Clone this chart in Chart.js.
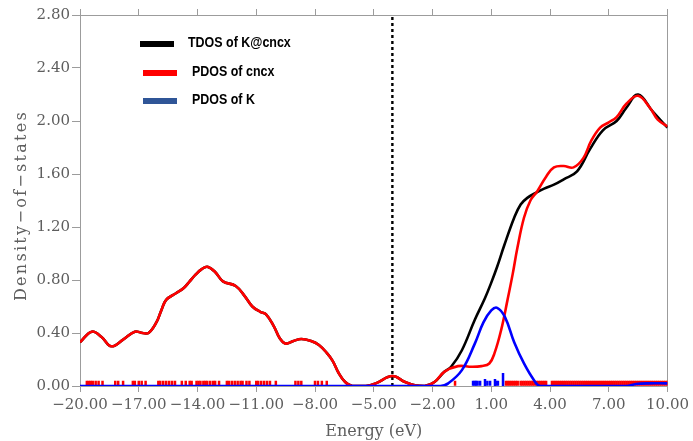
<!DOCTYPE html>
<html>
<head>
<meta charset="utf-8">
<script src="https://cdn.jsdelivr.net/npm/chart.js@4.4.0/dist/chart.umd.min.js"></script>
<style>
  html, body { margin: 0; padding: 0; background: #fff; }
  #wrap { width: 693px; height: 441px; }
</style>
</head>
<body>
<div id="wrap"><canvas id="dos" width="693" height="441"></canvas></div>
<script>
// tick labels
const xTicks = [-20, -17, -14, -11, -8, -5, -2, 1, 4, 7, 10];
const fermiLevel = -4.05;
const seriesNames = ['TDOS of K@cncx', 'PDOS of cncx', 'PDOS of K'];
const yTitle = 'Density\u2212of\u2212states';

// PDOS of cncx
const cncxEnergy = [-20, -19.4, -18.9, -18.4, -17.8, -17.2, -16.8, -16.5, -16.1, -15.85, -15.6, -15.1, -14.7, -14.4, -14.1, -13.8, -13.5,
  -13.1, -12.7, -12.05, -11.6, -11.2, -10.8, -10.5, -10.1, -9.8, -9.5, -9.1, -8.7, -8.2, -7.8, -7.4, -7.1, -6.8, -6.46, -6.1, -5.4,
  -4.9, -4.05, -3.4, -2.9, -2.4, -1.9, -1.4, -0.7, 0.0, 0.5, 0.9, 1.17, 1.5, 1.83, 2.1, 2.33, 2.67, 3.0, 3.35, 3.8, 4.2, 4.7,
  5.2, 5.7, 6.1, 6.56, 7.0, 7.4, 7.9, 8.5, 9.1, 9.5, 10];
const cncxDos = [0.33, 0.41, 0.37, 0.30, 0.35, 0.41, 0.40, 0.40, 0.48, 0.57, 0.65, 0.70, 0.74, 0.79, 0.84, 0.88, 0.90,
  0.86, 0.79, 0.755, 0.68, 0.60, 0.56, 0.54, 0.45, 0.36, 0.32, 0.34, 0.355, 0.34, 0.31, 0.25, 0.19, 0.10, 0.03, 0.0, 0.0,
  0.02, 0.075, 0.03, 0.005, 0.0, 0.03, 0.107, 0.15, 0.145, 0.15, 0.17, 0.25, 0.42, 0.65, 0.85, 1.04, 1.27, 1.40, 1.47, 1.58, 1.65, 1.66,
  1.65, 1.72, 1.85, 1.95, 1.99, 2.03, 2.13, 2.19, 2.10, 2.01, 1.96];

// TDOS of K@cncx
const totalEnergy = [-20, -19.4, -18.9, -18.4, -17.8, -17.2, -16.8, -16.5, -16.1, -15.85, -15.6, -15.1, -14.7, -14.4, -14.1, -13.8, -13.5,
  -13.1, -12.7, -12.05, -11.6, -11.2, -10.8, -10.5, -10.1, -9.8, -9.5, -9.1, -8.7, -8.2, -7.8, -7.4, -7.1, -6.8, -6.46, -6.1, -5.4,
  -4.9, -4.05, -3.4, -2.9, -2.4, -1.9, -1.4, -1.05, -0.5, 0.16, 0.67, 1.0, 1.3, 1.66, 2.17, 2.5, 2.84, 3.3, 3.7, 4.2, 4.7, 5.38,
  6.05, 6.7, 7.4, 7.9, 8.5, 9.25, 10];
const totalDos = [0.33, 0.41, 0.37, 0.30, 0.35, 0.41, 0.40, 0.40, 0.48, 0.57, 0.65, 0.70, 0.74, 0.79, 0.84, 0.88, 0.90,
  0.86, 0.79, 0.755, 0.68, 0.60, 0.56, 0.54, 0.45, 0.36, 0.32, 0.34, 0.355, 0.34, 0.31, 0.25, 0.19, 0.10, 0.03, 0.0, 0.0,
  0.02, 0.075, 0.03, 0.005, 0.0, 0.03, 0.107, 0.145, 0.27, 0.50, 0.66, 0.78, 0.90, 1.06, 1.27, 1.37, 1.42, 1.46, 1.49, 1.52, 1.56, 1.62,
  1.79, 1.93, 2.00, 2.10, 2.20, 2.07, 1.95];

// PDOS of K
const kEnergy = [-20, -1.6, -1.2, -0.5, 0.16, 0.6, 1.0, 1.3, 1.7, 2.17, 2.67, 3.2, 3.5, 7.9, 8.4, 9.0, 10];
const kDos = [0.0, 0.0, 0.02, 0.12, 0.32, 0.48, 0.57, 0.59, 0.52, 0.33, 0.17, 0.04, 0.0, 0.0, 0.015, 0.02, 0.02];

// eigenvalue rug marks
const cncxLevels = [-19.65, -19.55, -19.45, -19.35, -19.2, -19.05, -18.85, -18.2, -18.05, -17.8,
  -17.3, -17.2, -17.0, -16.85, -16.65, -16.0, -15.9, -15.75, -15.6, -15.45, -15.3, -15.15,
  -14.8, -14.6, -14.4, -14.3, -14.05, -13.95, -13.85, -13.7, -13.6, -13.5, -13.35, -13.2, -13.1, -12.9,
  -12.5, -12.4, -12.25, -12.1, -11.95, -11.8, -11.7, -11.5, -11.35, -11.0,
  -10.9, -10.75, -10.6, -10.45, -10.3, -10.0, -9.0, -8.85, -8.7, -8.0, -7.85, -7.65, -7.4, -0.85,
  1.75, 1.85, 1.95, 2.05, 2.15, 2.25, 2.35, 2.5, 2.6, 2.7, 2.8, 2.9, 3.0, 3.1, 3.2, 3.3, 3.4, 3.5, 3.6, 3.7, 3.8,
  4.1, 4.2, 4.3, 4.4, 4.5, 4.6, 4.7, 4.8, 4.9, 5.0, 5.1, 5.2, 5.3, 5.4, 5.5, 5.6, 5.7, 5.8, 5.9, 6.0,
  6.1, 6.2, 6.3, 6.4, 6.5, 6.6, 6.7, 6.8, 6.9, 7.0, 7.1, 7.2, 7.3, 7.4, 7.5, 7.6, 7.7, 7.8, 7.9, 8.0,
  8.1, 8.2, 8.3, 8.4, 8.5, 8.6, 8.7, 8.8, 8.9, 9.0, 9.1, 9.2, 9.3, 9.4, 9.5, 9.6, 9.7, 9.8, 9.9, 10.0];
const kLevels = [0.07, 0.15, 0.22, 0.3, 0.43, 0.8, 0.94, 1.25, 1.34];
const kLevelsStrong = [0.68, 1.19];
const kLevelsPeak = [1.6];

const pts = (xs, ys) => xs.map((x, i) => ({ x: x, y: ys[i] }));
const rug = (xs, h) => xs.map(x => ({ x: x, y: h }));
const fmt = v => (v < 0 ? '\u2212' : '') + Math.abs(v).toFixed(2);

const axisGray = '#9c9c9c';
const labelGray = '#5e5e5e';
const serif = "'DejaVu Serif', serif";

const legendRows = [
  { swatch: '#000000', sx: 140, tx: 188, y: 44 },
  { swatch: '#ff0000', sx: 143, tx: 192, y: 73 },
  { swatch: '#2f5597', sx: 143, tx: 192, y: 101 }
];

// inline legend + spaced y-axis title
const annotations = {
  id: 'annotations',
  afterDraw(chart) {
    const ctx = chart.ctx;
    const area = chart.chartArea;
    ctx.save();
    ctx.font = "bold 15px 'Liberation Sans', sans-serif";
    ctx.textBaseline = 'middle';
    legendRows.forEach((row, i) => {
      ctx.fillStyle = row.swatch;
      ctx.fillRect(row.sx, row.y - 3, 34, 6);
      ctx.save();
      ctx.translate(row.tx, row.y - 1);
      ctx.scale(0.83, 1);
      ctx.fillStyle = '#000';
      ctx.fillText(seriesNames[i], 0, 0);
      ctx.restore();
    });
    ctx.translate(22, (area.top + area.bottom) / 2 + 5);
    ctx.rotate(-Math.PI / 2);
    ctx.font = '16px ' + serif;
    ctx.letterSpacing = '2.3px';
    ctx.fillStyle = labelGray;
    ctx.textAlign = 'center';
    ctx.fillText(yTitle, 0, 0);
    ctx.restore();
  }
};

const lineStyle = { pointRadius: 0, borderWidth: 2.6, fill: false, tension: 0.4 };
const rugStyle = { showLine: false, pointStyle: 'line', rotation: 90, pointBorderWidth: 2.5, pointHoverRadius: 0 };

new Chart(document.getElementById('dos'), {
  type: 'line',
  data: {
    datasets: [
      Object.assign({ label: seriesNames[2], data: pts(kEnergy, kDos), borderColor: '#0000ff' }, lineStyle),
      Object.assign({ label: 'k-levels', data: rug(kLevels, 0.02), pointRadius: 2.5, pointBorderColor: '#0000ff' }, rugStyle),
      Object.assign({ label: 'k-levels-strong', data: rug(kLevelsStrong, 0.027), pointRadius: 3.5, pointBorderColor: '#0000ff' }, rugStyle),
      Object.assign({ label: 'k-levels-peak', data: rug(kLevelsPeak, 0.05), pointRadius: 6.5, pointBorderColor: '#0000ff' }, rugStyle),
      Object.assign({ label: 'cncx-levels', data: rug(cncxLevels, 0.02), pointRadius: 2.5, pointBorderColor: '#ff0000' }, rugStyle),
      Object.assign({ label: seriesNames[1], data: pts(cncxEnergy, cncxDos), borderColor: '#ff0000' }, lineStyle),
      Object.assign({ label: seriesNames[0], data: pts(totalEnergy, totalDos), borderColor: '#000000' }, lineStyle),
      { label: 'Fermi', data: [{ x: fermiLevel, y: 0 }, { x: fermiLevel, y: 2.8 }], borderColor: '#000', borderWidth: 2.4,
        borderDash: [3, 3], pointRadius: 0 }
    ]
  },
  options: {
    responsive: false,
    animation: false,
    layout: { padding: 0 },
    plugins: { legend: { display: false }, tooltip: { enabled: false } },
    scales: {
      x: {
        type: 'linear', position: 'bottom', min: -20, max: 10,
        afterBuildTicks: s => { s.ticks = xTicks.map(v => ({ value: v })); },
        afterFit: s => { s.height = 55; },
        ticks: { callback: v => fmt(v), font: { family: serif, size: 15 }, color: labelGray, padding: 4, maxRotation: 0, autoSkip: false },
        grid: { drawOnChartArea: false, drawTicks: true, tickLength: 6, color: axisGray },
        border: { color: axisGray },
        title: { display: true, text: 'Energy (eV)', font: { family: serif, size: 16 }, color: labelGray, padding: { top: 7, bottom: 0 } }
      },
      x2: {
        type: 'linear', position: 'top', min: -20, max: 10,
        afterBuildTicks: s => { s.ticks = xTicks.map(v => ({ value: v })); },
        afterFit: s => { s.height = 15; },
        ticks: { display: false },
        grid: { drawOnChartArea: false, drawTicks: true, tickLength: 6, color: axisGray },
        border: { color: axisGray }
      },
      y: {
        position: 'left', min: 0, max: 2.8,
        afterFit: s => { s.width = 80; },
        ticks: { stepSize: 0.4, callback: v => fmt(v), font: { family: serif, size: 15 }, color: labelGray, padding: 2 },
        grid: { drawOnChartArea: false, drawTicks: true, tickLength: 8, color: axisGray },
        border: { color: axisGray }
      },
      y2: {
        position: 'right', min: 0, max: 2.8,
        afterFit: s => { s.width = 23; },
        ticks: { display: false },
        grid: { drawOnChartArea: false, drawTicks: false },
        border: { color: axisGray }
      }
    }
  },
  plugins: [annotations]
});
</script>
</body>
</html>
